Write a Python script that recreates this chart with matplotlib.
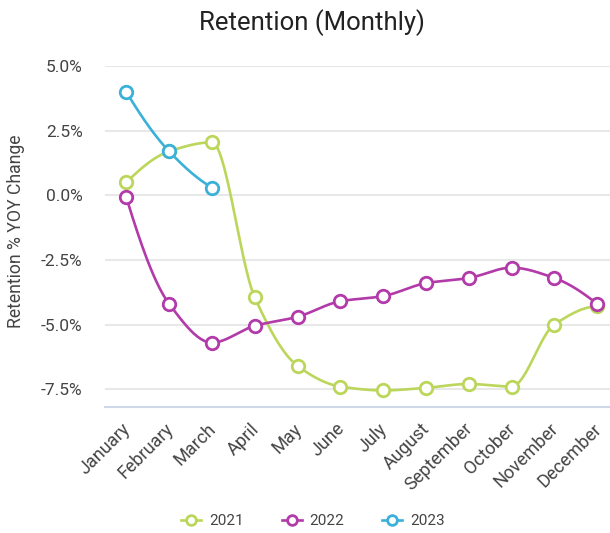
import numpy as np
import matplotlib.pyplot as plt
import matplotlib.transforms as mtransforms

plt.rcParams['font.family'] = ['Roboto', 'DejaVu Sans']

months = ['January', 'February', 'March', 'April', 'May', 'June', 'July',
          'August', 'September', 'October', 'November', 'December']
y2021 = [0.5, 1.7, 2.05, -3.95, -6.6, -7.4, -7.55, -7.45, -7.3, -7.4, -5.0, -4.3]
y2022 = [-0.08, -4.2, -5.7, -5.05, -4.7, -4.1, -3.9, -3.4, -3.2, -2.8, -3.2, -4.2]
y2023 = [4.0, 1.7, 0.3]
yticks = [5.0, 2.5, 0.0, -2.5, -5.0, -7.5]

c2021 = '#bcd65c'
c2022 = '#b23aa9'
c2023 = '#3bb0d9'


def pchip(x, y, xs):
    # monotone cubic, like the smooth lines in the original
    x = np.asarray(x, float)
    y = np.asarray(y, float)
    h = np.diff(x)
    d = np.diff(y) / h
    n = len(x)
    m = np.zeros(n)
    for k in range(1, n - 1):
        if d[k - 1] * d[k] > 0:
            w1 = 2 * h[k] + h[k - 1]
            w2 = h[k] + 2 * h[k - 1]
            m[k] = (w1 + w2) / (w1 / d[k - 1] + w2 / d[k])
    m[0] = d[0]
    m[-1] = d[-1]
    if n > 2:
        m[0] = ((2 * h[0] + h[1]) * d[0] - h[0] * d[1]) / (h[0] + h[1])
        if np.sign(m[0]) != np.sign(d[0]):
            m[0] = 0
        m[-1] = ((2 * h[-1] + h[-2]) * d[-1] - h[-1] * d[-2]) / (h[-1] + h[-2])
        if np.sign(m[-1]) != np.sign(d[-1]):
            m[-1] = 0
    idx = np.clip(np.searchsorted(x, xs) - 1, 0, n - 2)
    t = (xs - x[idx]) / h[idx]
    h00 = 2 * t**3 - 3 * t**2 + 1
    h10 = t**3 - 2 * t**2 + t
    h01 = -2 * t**3 + 3 * t**2
    h11 = t**3 - t**2
    return h00 * y[idx] + h10 * h[idx] * m[idx] + h01 * y[idx + 1] + h11 * h[idx] * m[idx + 1]


fig = plt.figure(figsize=(6.1, 5.33), dpi=100)
ax = fig.add_axes([0.172, 0.236, 0.842, 0.640])

for vals, col, lab in [(y2021, c2021, '2021'), (y2022, c2022, '2022'), (y2023, c2023, '2023')]:
    xi = np.arange(len(vals))
    xs = np.linspace(0, len(vals) - 1, 300)
    ax.plot(xs, pchip(xi, vals, xs), color=col, lw=1.9, zorder=3, solid_capstyle='round')
    ax.plot(xi, vals, 'o', color=col, mfc='white', mec=col, ms=9, mew=2, zorder=4)
    ax.plot([], [], '-o', color=col, mfc='white', mec=col, ms=7, mew=2, lw=1.9, label=lab)

ax.set_xlim(-0.5, 11.5)
ax.set_ylim(-8.2, 5.0)
ax.set_yticks(yticks)
ax.set_yticklabels(['%.1f%%' % v for v in yticks])
ax.set_xticks(range(len(months)))
ax.set_xticklabels(months, rotation=45, ha='right', rotation_mode='anchor')
ax.grid(axis='y', color='#e8e8e8', lw=1.5)
ax.set_axisbelow(True)
for s in ['top', 'right', 'left']:
    ax.spines[s].set_visible(False)
ax.spines['bottom'].set_color('#cfd8e8')
ax.spines['bottom'].set_linewidth(1.5)
ax.tick_params(length=0, labelsize=12.5, labelcolor='#444444')
ax.tick_params(axis='x', labelsize=13, pad=9)
ax.tick_params(axis='y', pad=16)
off = mtransforms.ScaledTranslation(-5 / 100, 0, fig.dpi_scale_trans)
for lbl in ax.get_xticklabels():
    lbl.set_transform(lbl.get_transform() + off)

ax.set_ylabel('Retention % YOY Change', fontsize=12.7, color='#444444')
ax.yaxis.set_label_coords(-0.155, 0.516)

fig.text(0.512, 0.958, 'Retention (Monthly)', ha='center', va='center',
         fontsize=18.5, color='#222222')

fig.legend(loc='center', bbox_to_anchor=(0.513, 0.022), ncol=3, frameon=False,
           fontsize=11, handlelength=1.3, columnspacing=2.5, handletextpad=0.5,
           labelcolor='#444444')

fig.savefig('out.png', dpi=100)
